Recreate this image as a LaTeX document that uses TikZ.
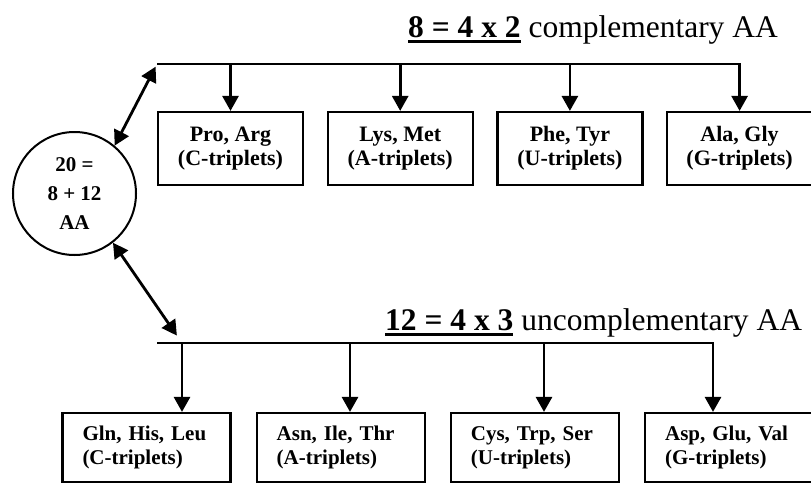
\documentclass[tikz,border=0pt]{standalone}
\usepackage{fontspec}
\setmainfont{Liberation Serif}
\usetikzlibrary{arrows.meta,positioning}
\newcommand{\thickul}[1]{\vtop{\hbox{#1}\kern3pt\hrule height 2.6pt}}

\begin{document}
\begin{tikzpicture}[
            x=1pt, y=-1pt,
            node distance=22.5pt,
            box/.style={rectangle, draw, line width=2.2pt, minimum width=145pt, minimum height=73pt, align=center, inner sep=0pt, font=\fontsize{22}{24}\selectfont\bfseries},
            lowbox/.style={rectangle, draw, line width=2.2pt, text width=128pt, minimum height=69pt, inner xsep=20pt, inner ysep=0pt, align=left, font=\fontsize{21}{24}\selectfont\bfseries},
            titletext/.style={anchor=base west, inner sep=0pt, font=\fontsize{31.5}{36}\selectfont},
            arrow/.style={-{Triangle[length=15pt,width=16pt]}, line width=2.8pt},
            twoway/.style={{Triangle[length=15pt,width=16pt]}-{Triangle[length=15pt,width=16pt]}, line width=2.8pt}
        ]
            \useasboundingbox (0,0) rectangle (811,485);

            % --- 20 AA (Esquerda) ---
            \node[circle, draw, line width=2pt, minimum size=123pt, inner sep=0pt, align=center, font=\fontsize{21}{29}\selectfont\bfseries] (circleAA) at (74.5,193.5) {20 =\\8 + 12\\AA};

            % --- complementary AA (Topo) ---
            \node[titletext] (titleComp) at (408,37) {\thickul{\textbf{8 = 4 x 2}} complementary AA};

            \node[box] (boxPro) at (230.5,148.5) {Pro, Arg\\(C-triplets)};
            \node[box, right=of boxPro] (boxLys) {Lys, Met\\(A-triplets)};
            \node[box, right=of boxLys] (boxPhe) {Phe, Tyr\\(U-triplets)};
            \node[box, right=of boxPhe] (boxAla) {Ala, Gly\\(G-triplets)};

            \coordinate (busTop) at (157,64);
            \draw[arrow] (busTop) -| (boxAla.north);
            \draw[arrow] (boxPro.north |- busTop) -- (boxPro.north);
            \draw[arrow] (boxLys.north |- busTop) -- (boxLys.north);
            \draw[arrow] (boxPhe.north |- busTop) -- (boxPhe.north);

            % --- uncomplementary AA (Baixo) ---
            \node[titletext] (titleUncomp) at (385,330) {\thickul{\textbf{12 = 4 x 3}} uncomplementary AA};

            \node[lowbox] (boxGln) at (146.5,447.5) {Gln, His, Leu\\(C-triplets)};
            \node[lowbox, right=24pt of boxGln] (boxAsn) {Asn, Ile, Thr\\(A-triplets)};
            \node[lowbox, right=24pt of boxAsn] (boxCys) {Cys, Trp, Ser\\(U-triplets)};
            \node[lowbox, right=24pt of boxCys] (boxAsp) {Asp, Glu, Val\\(G-triplets)};

            \coordinate (busLow) at (157,343);
            \coordinate (dropGln) at (182,343);
            \coordinate (dropAsn) at (350,343);
            \coordinate (dropCys) at (544,343);
            \coordinate (dropAsp) at (713,343);
            \draw[arrow] (busLow) -| (dropAsp |- boxAsp.north);
            \draw[arrow] (dropGln) -- (dropGln |- boxGln.north);
            \draw[arrow] (dropAsn) -- (dropAsn |- boxAsn.north);
            \draw[arrow] (dropCys) -- (dropCys |- boxCys.north);

            % ligações do círculo
            \draw[twoway, shorten >=3pt] (circleAA.50) -- (busTop);
            \draw[twoway, shorten >=9pt] (circleAA.-52) -- (dropGln);

        \end{tikzpicture}
\end{document}
